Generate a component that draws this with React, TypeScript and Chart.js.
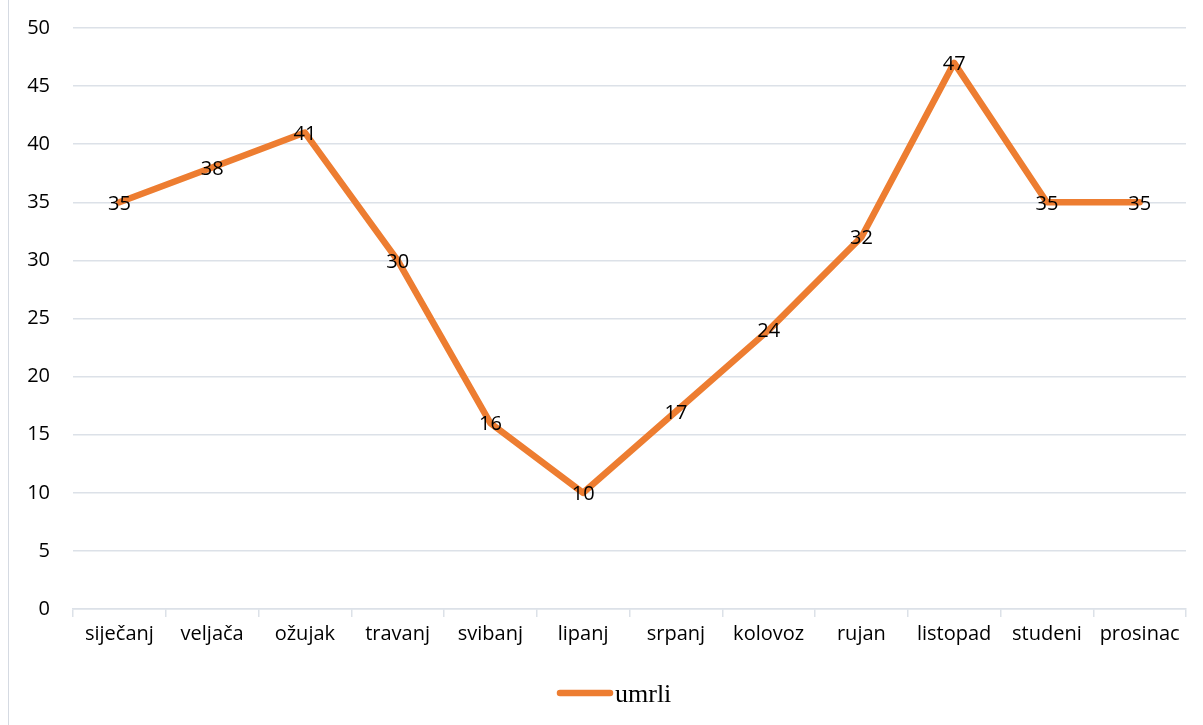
import React, { useEffect, useRef } from "react";
import { Chart, registerables } from "chart.js";

Chart.register(...registerables);

const months = ["siječanj", "veljača", "ožujak", "travanj", "svibanj", "lipanj", "srpanj", "kolovoz", "rujan", "listopad", "studeni", "prosinac"];
const umrli = [35, 38, 41, 30, 16, 10, 17, 24, 32, 47, 35, 35];
const seriesLabel = "umrli";
const yMin = 0;
const yMax = 50;
const yStep = 5;

const LINE_COLOR = "#ED7D31";
const GRID_COLOR = "#DCE1E8";
const FONT = "'Open Sans', Lato, sans-serif";
const FONT_SIZE = 20;

const dataLabels = {
  id: "dataLabels",
  afterDatasetsDraw(chart: any) {
    const ctx = chart.ctx;
    ctx.save();
    ctx.font = `${FONT_SIZE}px ${FONT}`;
    ctx.fillStyle = "#000";
    ctx.textAlign = "center";
    ctx.textBaseline = "middle";
    chart.data.datasets.forEach((ds: any, i: number) => {
      const meta = chart.getDatasetMeta(i);
      meta.data.forEach((pt: any, j: number) => {
        ctx.fillText(String(ds.data[j]), pt.x, pt.y + 1.5);
      });
    });
    ctx.restore();
  },
};

const customLegend = {
  id: "customLegend",
  afterDraw(chart: any) {
    const ctx = chart.ctx;
    const ds = chart.data.datasets[0];
    const y = 693;
    ctx.save();
    ctx.strokeStyle = ds.borderColor;
    ctx.lineWidth = 6.5;
    ctx.lineCap = "round";
    ctx.beginPath();
    ctx.moveTo(560, y);
    ctx.lineTo(610, y);
    ctx.stroke();
    ctx.fillStyle = "#000";
    ctx.font = `26px 'Liberation Serif', 'Times New Roman', serif`;
    ctx.textAlign = "left";
    ctx.textBaseline = "alphabetic";
    ctx.fillText(ds.label, 615, 702);
    ctx.restore();
  },
};

export default function App() {
  const ref = useRef<HTMLCanvasElement>(null);
  useEffect(() => {
    if (!ref.current) return;
    const chart = new Chart(ref.current, {
      type: "line",
      data: {
        labels: months,
        datasets: [
          {
            label: seriesLabel,
            data: umrli,
            borderColor: LINE_COLOR,
            backgroundColor: LINE_COLOR,
            borderWidth: 6.5,
            borderJoinStyle: "round",
            borderCapStyle: "round",
            pointRadius: 0,
            tension: 0,
          },
        ],
      },
      options: {
        responsive: false,
        animation: false,
        devicePixelRatio: 1,
        layout: { padding: { left: 0, right: 17, top: 28, bottom: 0 } },
        plugins: {
          legend: { display: false },
          tooltip: { enabled: false },
        },
        scales: {
          x: {
            offset: true,
            grid: {
              offset: true,
              drawOnChartArea: false,
              drawTicks: true,
              tickLength: 8,
              color: GRID_COLOR,
              lineWidth: 1.5,
            },
            border: { display: true, color: GRID_COLOR, width: 1.5 },
            ticks: {
              color: "#000",
              font: { family: FONT, size: FONT_SIZE },
              padding: 5,
              autoSkip: false,
              maxRotation: 0,
            },
            afterFit(scale: any) {
              scale.height = 116;
              scale.paddingLeft = 0;
              scale.paddingRight = 0;
            },
          },
          y: {
            min: yMin,
            max: yMax,
            grid: { color: GRID_COLOR, lineWidth: 1.5, drawTicks: false },
            border: { display: false },
            ticks: {
              stepSize: yStep,
              color: "#000",
              font: { family: FONT, size: FONT_SIZE },
              padding: 23,
            },
            afterFit(scale: any) {
              scale.width = 73;
              scale.paddingTop = 0;
              scale.paddingBottom = 0;
            },
          },
        },
      },
      plugins: [dataLabels, customLegend],
    });
    return () => chart.destroy();
  }, []);

  return (
    <div style={{ position: "fixed", left: 0, top: 0, width: 1203, height: 725, background: "#fff", overflow: "hidden" }}>
      <div style={{ position: "absolute", left: 8, top: 0, width: 1, height: 725, background: "#D5DAE2" }} />
      <canvas ref={ref} width={1203} height={725} style={{ position: "absolute", left: 0, top: 0, width: 1203, height: 725 }} />
    </div>
  );
}
